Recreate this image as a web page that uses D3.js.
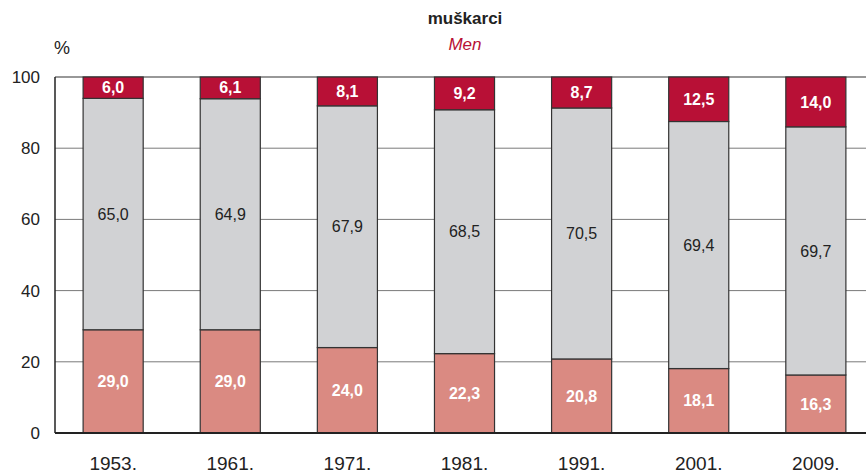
<!DOCTYPE html>
<html>
<head>
<meta charset="utf-8">
<script src="https://cdn.jsdelivr.net/npm/d3@7"></script>
<style>
    body { margin: 0; background: #fff; }
    svg { display: block; font-family: "Liberation Sans Narrow", "Arial Narrow", "Liberation Sans", sans-serif; }
</style>
</head>
<body>
<svg id="chart" width="866" height="475"></svg>
<script>
// 數據
const years = ['1953.', '1961.', '1971.', '1981.', '1991.', '2001.', '2009.'];
const lowValues = [29.0, 29.0, 24.0, 22.3, 20.8, 18.1, 16.3];
const midValues = [65.0, 64.9, 67.9, 68.5, 70.5, 69.4, 69.7];
const topValues = [6.0, 6.1, 8.1, 9.2, 8.7, 12.5, 14.0];
const yTicks = [0, 20, 40, 60, 80, 100];

const colors = { low: '#da8a82', mid: '#d1d2d4', top: '#b81036' };

const svg = d3.select('#chart');
const margin = { top: 77, left: 55, bottom: 42 };
const height = 475 - margin.top - margin.bottom;

const x = d3.scaleBand()
    .domain(years)
    .range([margin.left, margin.left + 7 * 117])
    .paddingInner(0.487)
    .paddingOuter(0.24);

const y = d3.scaleLinear()
    .domain([0, 100])
    .range([margin.top + height, margin.top]);

// 標題
svg.append('text')
    .attr('x', 465).attr('y', 24)
    .attr('text-anchor', 'middle')
    .style('font-family', '"Liberation Sans", Arial, sans-serif')
    .style('font-size', '17px').style('font-weight', 'bold')
    .attr('fill', '#222')
    .text('muškarci');

svg.append('text')
    .attr('x', 465).attr('y', 50)
    .attr('text-anchor', 'middle')
    .style('font-family', '"Liberation Sans", Arial, sans-serif')
    .style('font-size', '17px').style('font-style', 'italic')
    .attr('fill', '#b81036')
    .text('Men');

svg.append('text')
    .attr('x', 54).attr('y', 54)
    .style('font-size', '18px')
    .attr('fill', '#222')
    .text('%');

// 網格線
svg.append('g')
    .selectAll('line')
    .data(yTicks.filter(d => d > 0 && d < 100))
    .join('line')
    .attr('x1', margin.left).attr('x2', 866)
    .attr('y1', d => y(d)).attr('y2', d => y(d))
    .attr('stroke', '#7a7a7a').attr('stroke-width', 1);

svg.append('line')
    .attr('x1', margin.left).attr('x2', 866)
    .attr('y1', y(100)).attr('y2', y(100))
    .attr('stroke', '#333').attr('stroke-width', 1.2);

// Y軸標籤
svg.append('g')
    .selectAll('text')
    .data(yTicks)
    .join('text')
    .attr('x', 40)
    .attr('y', d => y(d))
    .attr('dy', '0.35em')
    .attr('text-anchor', 'end')
    .style('font-size', '17px')
    .attr('fill', '#222')
    .text(d => d);

// 堆疊數據
const rows = years.map((yr, i) => ({ year: yr, low: lowValues[i], mid: midValues[i], top: topValues[i] }));
const stack = d3.stack().keys(['low', 'mid', 'top'])(rows);

const layers = svg.append('g')
    .selectAll('g')
    .data(stack)
    .join('g')
    .attr('fill', d => colors[d.key]);

layers.selectAll('rect')
    .data(d => d)
    .join('rect')
    .attr('x', d => x(d.data.year))
    .attr('width', x.bandwidth())
    .attr('y', d => y(d[1]))
    .attr('height', d => y(d[0]) - y(d[1]))
    .attr('stroke', '#333')
    .attr('stroke-width', 1.2);

// 數值標籤
stack.forEach(layer => {
    svg.append('g')
        .selectAll('text')
        .data(layer)
        .join('text')
        .attr('x', d => x(d.data.year) + x.bandwidth() / 2)
        .attr('y', d => y((d[0] + d[1]) / 2))
        .attr('dy', '0.35em')
        .attr('text-anchor', 'middle')
        .style('font-size', '16px')
        .style('font-weight', layer.key === 'mid' ? 'normal' : 'bold')
        .attr('fill', layer.key === 'mid' ? '#222' : '#fff')
        .text(d => d.data[layer.key].toFixed(1).replace('.', ','));
});

// 軸線
svg.append('line')
    .attr('x1', margin.left).attr('x2', margin.left)
    .attr('y1', y(100)).attr('y2', y(0))
    .attr('stroke', '#222').attr('stroke-width', 1.5);

svg.append('line')
    .attr('x1', margin.left).attr('x2', 866)
    .attr('y1', y(0)).attr('y2', y(0))
    .attr('stroke', '#222').attr('stroke-width', 2);

// X軸標籤
svg.append('g')
    .selectAll('text')
    .data(years)
    .join('text')
    .attr('x', d => x(d) + x.bandwidth() / 2)
    .attr('y', 470)
    .attr('text-anchor', 'middle')
    .style('font-size', '19px')
    .attr('fill', '#222')
    .text(d => d);
</script>
</body>
</html>
